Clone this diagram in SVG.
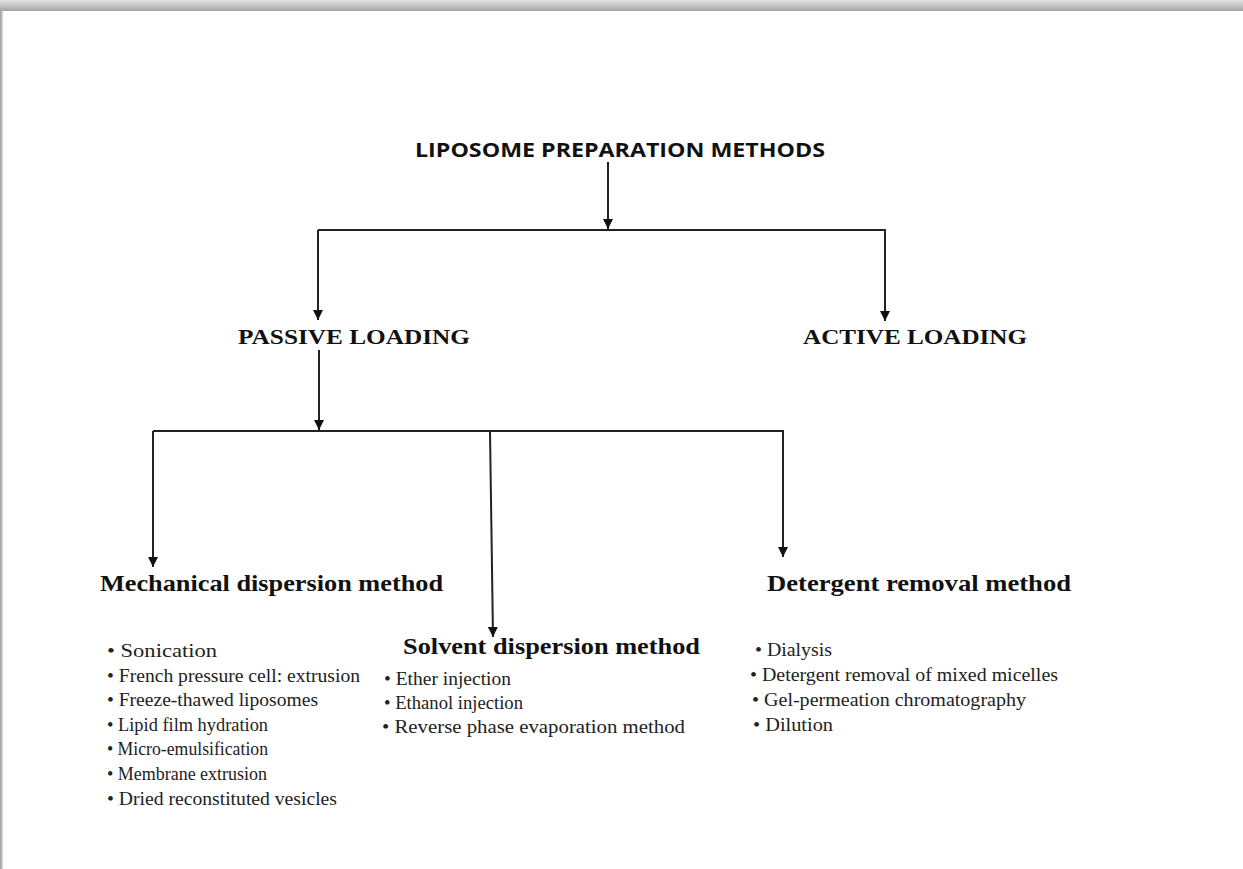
<svg xmlns="http://www.w3.org/2000/svg" width="1243" height="869" viewBox="0 0 1243 869">
<defs>
<linearGradient id="topShadow" x1="0" y1="0" x2="0" y2="1">
<stop offset="0" stop-color="#e4e4e4"/>
<stop offset="1" stop-color="#a4a4a4"/>
</linearGradient>
<linearGradient id="leftShadow" x1="0" y1="0" x2="1" y2="0">
<stop offset="0" stop-color="#9a9a9a"/>
<stop offset="1" stop-color="#e0e0e0"/>
</linearGradient>
<marker id="arrow" viewBox="0 0 10 10" refX="10" refY="5" markerWidth="10" markerHeight="10" markerUnits="userSpaceOnUse" orient="auto">
<path d="M0,0 L10,5 L0,10 Z" fill="#111"/>
</marker>
<style>
.title{font-family:"Open Sans","Liberation Sans",sans-serif;font-weight:bold;font-size:20px;fill:#111}
.cat{font-family:"Liberation Serif",serif;font-weight:bold;font-size:21px;fill:#111}
.head{font-family:"Liberation Serif",serif;font-weight:bold;font-size:24px;fill:#111}
.item{font-family:"Liberation Serif",serif;font-size:18px;fill:#222}
.conn{stroke:#222;stroke-width:2;fill:none}
</style>
</defs>
<rect width="1243" height="869" fill="#ffffff"/>
<rect x="0" y="0" width="1243" height="11" fill="url(#topShadow)"/>
<rect x="0" y="11" width="3" height="858" fill="url(#leftShadow)"/>

<g id="connectors">
<line class="conn" x1="608" y1="162" x2="608" y2="229" marker-end="url(#arrow)"/>
<line class="conn" x1="318" y1="230" x2="886" y2="230"/>
<line class="conn" x1="318" y1="230" x2="318" y2="320" marker-end="url(#arrow)"/>
<line class="conn" x1="885" y1="230" x2="885" y2="321" marker-end="url(#arrow)"/>
<line class="conn" x1="319" y1="350" x2="319" y2="430" marker-end="url(#arrow)"/>
<line class="conn" x1="153" y1="431" x2="784" y2="431"/>
<line class="conn" x1="153" y1="431" x2="153" y2="567" marker-end="url(#arrow)"/>
<line class="conn" x1="490" y1="431" x2="493" y2="637" marker-end="url(#arrow)"/>
<line class="conn" x1="783" y1="431" x2="783" y2="557" marker-end="url(#arrow)"/>
</g>

<g id="root">
<text class="title" x="415" y="157" textLength="410" lengthAdjust="spacingAndGlyphs">LIPOSOME PREPARATION METHODS</text>
</g>

<g id="passive">
<text class="cat" x="238" y="344" textLength="232" lengthAdjust="spacingAndGlyphs">PASSIVE LOADING</text>
</g>

<g id="active">
<text class="cat" x="803" y="344" textLength="224" lengthAdjust="spacingAndGlyphs">ACTIVE LOADING</text>
</g>

<g id="mechanical">
<text class="head" x="100" y="591" textLength="343" lengthAdjust="spacingAndGlyphs">Mechanical dispersion method</text>
<text class="item" x="107" y="657" textLength="110" lengthAdjust="spacingAndGlyphs">• Sonication</text>
<text class="item" x="107" y="682" textLength="253" lengthAdjust="spacingAndGlyphs">• French pressure cell: extrusion</text>
<text class="item" x="107" y="706" textLength="211" lengthAdjust="spacingAndGlyphs">• Freeze-thawed liposomes</text>
<text class="item" x="107" y="731" textLength="161" lengthAdjust="spacingAndGlyphs">• Lipid film hydration</text>
<text class="item" x="107" y="755" textLength="161" lengthAdjust="spacingAndGlyphs">• Micro-emulsification</text>
<text class="item" x="107" y="780" textLength="160" lengthAdjust="spacingAndGlyphs">• Membrane extrusion</text>
<text class="item" x="107" y="805" textLength="230" lengthAdjust="spacingAndGlyphs">• Dried reconstituted vesicles</text>
</g>

<g id="solvent">
<text class="head" x="403" y="654" textLength="297" lengthAdjust="spacingAndGlyphs">Solvent dispersion method</text>
<text class="item" x="384" y="685" textLength="127" lengthAdjust="spacingAndGlyphs">• Ether injection</text>
<text class="item" x="384" y="709" textLength="139" lengthAdjust="spacingAndGlyphs">• Ethanol injection</text>
<text class="item" x="382" y="733" textLength="303" lengthAdjust="spacingAndGlyphs">• Reverse phase evaporation method</text>
</g>

<g id="detergent">
<text class="head" x="767" y="591" textLength="304" lengthAdjust="spacingAndGlyphs">Detergent removal method</text>
<text class="item" x="755" y="656" textLength="77" lengthAdjust="spacingAndGlyphs">• Dialysis</text>
<text class="item" x="750" y="681" textLength="308" lengthAdjust="spacingAndGlyphs">• Detergent removal of mixed micelles</text>
<text class="item" x="752" y="706" textLength="274" lengthAdjust="spacingAndGlyphs">• Gel-permeation  chromatography</text>
<text class="item" x="753" y="731" textLength="80" lengthAdjust="spacingAndGlyphs">• Dilution</text>
</g>
</svg>
